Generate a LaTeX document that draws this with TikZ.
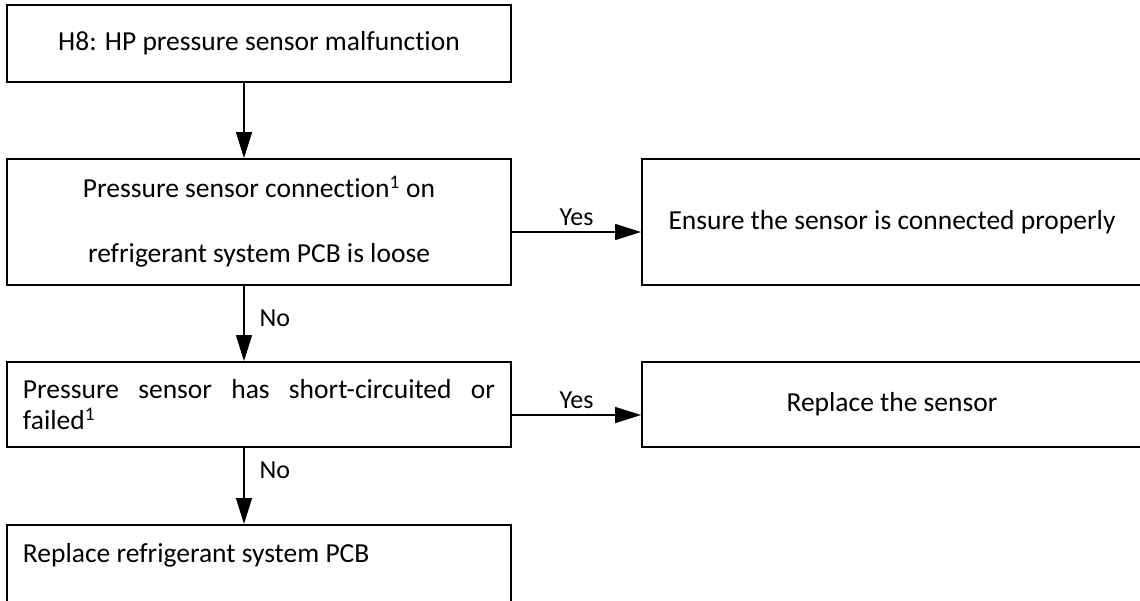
\documentclass[tikz,border=0pt]{standalone}
\usepackage{fontspec}
\setmainfont{Carlito}[Ligatures={NoCommon}]
\usetikzlibrary{arrows.meta}
\begin{document}
\begin{tikzpicture}[x=1pt,y=-1pt,
  box/.style={draw, line width=1.8pt, inner sep=0pt, minimum width=504pt},
  wbox/.style={draw, line width=1.8pt, inner sep=0pt, minimum width=500pt},
  txt/.style={font=\fontsize{27.5}{33}\selectfont},
  arr/.style={line width=1.4pt, -{Triangle[length=26pt,width=16pt]}},
  lbl/.style={font=\fontsize{26}{30}\selectfont, inner sep=0pt}]
\useasboundingbox (0,0) rectangle (1140,600);
\clip (0,0) rectangle (1140,600);
\fill[white] (0,0) rectangle (1140,600);

\node[box, txt, minimum height=77pt] (b1) at (259,43.5) {H8: HP pressure sensor malfunction};
\node[box, minimum height=126pt, align=center, font=\fontsize{27.5}{65}\selectfont] (b2) at (259,222)
  {Pressure sensor connection\textsuperscript{1} on\\refrigerant system PCB is loose};
\node[wbox, txt, minimum height=126pt] (b3) at (892,222) {Ensure the sensor is connected properly};
\node[box, minimum height=85pt, text width=472pt, align=justify, font=\fontsize{27.5}{31}\selectfont] (b4) at (259,404.5)
  {Pressure sensor has short-circuited or failed\textsuperscript{1}};
\node[wbox, txt, minimum height=85pt] (b5) at (892,404.5) {Replace the sensor};
\node[box, txt, anchor=north, inner ysep=8pt, inner xsep=16pt, text width=472pt, align=flush left,
  text height=30pt, text depth=60pt] (b6) at (259,524) {Replace refrigerant system PCB};

\draw[arr] ([xshift=-15pt]b1.south) -- ([xshift=-15pt]b2.north);
\draw[arr] ([yshift=-10pt]b2.east) -- ([yshift=-10pt]b3.west)
  node[lbl, midway, above=6pt] {Yes};
\draw[arr] ([xshift=-15pt]b2.south) -- ([xshift=-15pt]b4.north)
  node[lbl, pos=0.43, right=15pt] {No};
\draw[arr] ([yshift=-10.5pt]b4.east) -- ([yshift=-10.5pt]b5.west)
  node[lbl, midway, above=6pt] {Yes};
\draw[arr] ([xshift=-15pt]b4.south) -- ([xshift=-15pt]b6.north)
  node[lbl, pos=0.3, right=15pt] {No};
\end{tikzpicture}
\end{document}
